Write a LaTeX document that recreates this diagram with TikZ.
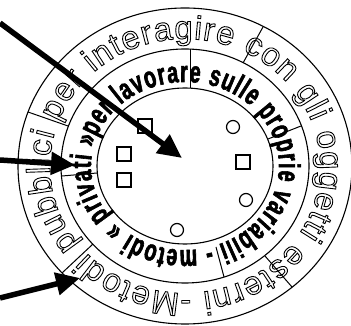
\documentclass[tikz,border=0pt]{standalone}
\usepackage{fontspec}
\usetikzlibrary{decorations.text,arrows.meta}
\newfontfamily\outerfont{Liberation Sans}
\newfontfamily\midfont[FakeStretch=0.66]{Liberation Sans Bold}
\newcommand\outlon{\special{pdf:literal direct 1 Tr 0.9 w}}
\newcommand\heavyon{\special{pdf:literal direct 2 Tr 0.6 w}}
\newcommand\outerfmt{\outerfont\fontsize{33pt}{33pt}\selectfont\outlon}
\newcommand\midfmt{\midfont\fontsize{30pt}{30pt}\selectfont\heavyon}
\begin{document}
\begin{tikzpicture}[x=1pt,y=1pt,
  ring/.style={draw=black,line width=1.1pt},
  sepline/.style={draw=black,line width=1pt},
  bigarrow/.style={line width=5.5pt,-{Triangle[length=24pt,width=22pt]}},
  sqbox/.style={draw=black,line width=1.2pt,minimum size=14pt,inner sep=0pt},
  cibox/.style={draw=black,circle,line width=1.2pt,minimum size=13pt,inner sep=0pt}]
\useasboundingbox (0,0) rectangle (351,326);
\coordinate (C) at (185,160);
% rings
\draw[ring] (C) ellipse[x radius=167,y radius=158];
\draw[ring] (C) ellipse[x radius=124,y radius=117];
\draw[ring] (C) ellipse[x radius=88,y radius=78];
% separators
\draw[sepline] (28,214) -- (68,200);
\draw[sepline] (263,299) -- (243,263);
\draw[sepline] (292,39) -- (265,70);
\draw[sepline] (62,53) -- (93,82);
\draw[sepline] (190,277) -- (190,238);
\draw[sepline] (301,200) -- (268,187);
\draw[sepline] (216,79) -- (224,49);
\draw[sepline] (62,150) -- (97,153);
% ring texts
\path[decorate,decoration={text along path,text align=fit to path,
  text={|\outerfmt|Metodi pubblici per interagire con gli oggetti esterni - }}]
  (C) ++(268:135 and 127) arc[start angle=268,end angle=-92,x radius=135,y radius=127];
\path[decorate,decoration={text along path,text align=fit to path,
  text={|\midfmt|per lavorare sulle proprie variabili - metodi « privati » }}]
  (C) ++(160:94 and 84) arc[start angle=160,end angle=-200,x radius=94,y radius=84];
% inner items
\node[sqbox] (s1) at (145,200) {};
\node[sqbox] (s2) at (124,172) {};
\node[sqbox] (s3) at (124,146) {};
\node[sqbox] (s4) at (243,164) {};
\node[cibox] (c1) at (233,199) {};
\node[cibox] (c2) at (246,126) {};
\node[cibox] (c3) at (177,96) {};
% arrows
\coordinate (a1s) at (0,303);
\coordinate (a1e) at (182,168);
\coordinate (a2s) at (0,166);
\coordinate (a2e) at (75,161);
\coordinate (a3s) at (0,28);
\coordinate (a3e) at (80,48);
\draw[bigarrow] (a1s) -- (a1e);
\draw[bigarrow] (a2s) -- (a2e);
\draw[bigarrow] (a3s) -- (a3e);
\end{tikzpicture}
\end{document}
